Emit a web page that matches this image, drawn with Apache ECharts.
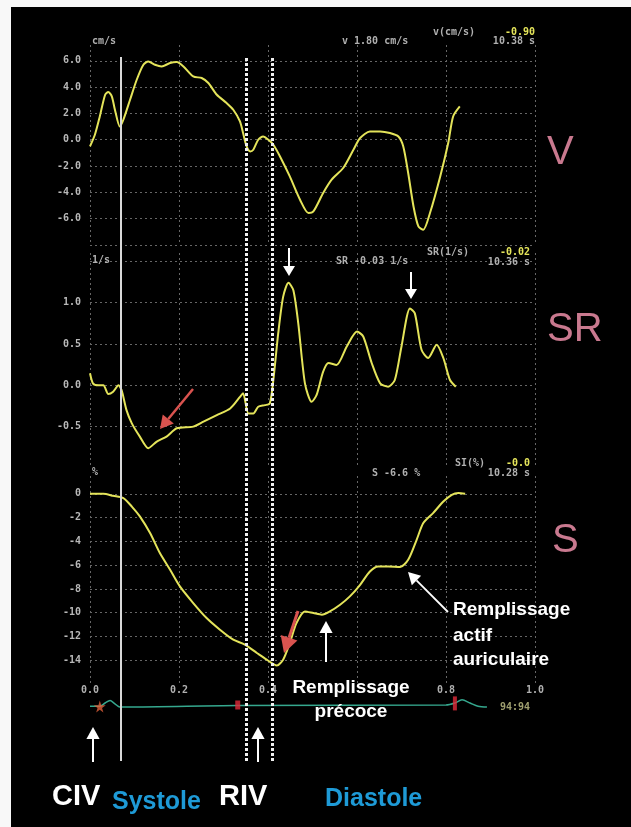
<!DOCTYPE html>
<html>
<head>
<meta charset="utf-8">
<script src="https://cdn.jsdelivr.net/npm/echarts@6/dist/echarts.min.js"></script>
<style>
  html, body { margin: 0; padding: 0; background: #000; }
  #main { width: 631px; height: 827px; }
</style>
</head>
<body>
<div id="main"></div>
<script>
// temps en secondes, vitesse v (cm/s)
const vTime = [0, 0.011, 0.022, 0.034, 0.041, 0.049, 0.056, 0.067, 0.075, 0.09, 0.105, 0.12, 0.131, 0.146, 0.161, 0.18, 0.195, 0.21, 0.232, 0.251, 0.266, 0.285, 0.307, 0.322, 0.337, 0.344, 0.352, 0.36, 0.367, 0.378, 0.389, 0.401, 0.412, 0.427, 0.449, 0.472, 0.491, 0.502, 0.524, 0.543, 0.569, 0.592, 0.607, 0.629, 0.652, 0.674, 0.693, 0.704, 0.715, 0.727, 0.738, 0.749, 0.764, 0.787, 0.805, 0.816, 0.831];
const vVal = [-0.5, 0.38, 1.77, 3.42, 3.63, 3.3, 2.28, 1.0, 1.52, 3.04, 4.56, 5.7, 5.95, 5.7, 5.57, 5.83, 5.9, 5.57, 4.81, 4.69, 4.31, 3.42, 2.79, 2.28, 1.39, 0.51, -0.51, -0.89, -0.76, 0, 0.25, 0, -0.38, -1.27, -2.79, -4.56, -5.57, -5.45, -4.05, -3.04, -2.15, -0.76, 0.13, 0.63, 0.63, 0.51, 0.25, -0.51, -2.53, -5.07, -6.59, -6.84, -5.57, -2.79, -0.25, 1.77, 2.53];

// strain rate SR (1/s)
const srTime = [0, 0.007, 0.019, 0.03, 0.041, 0.052, 0.064, 0.071, 0.082, 0.094, 0.112, 0.131, 0.15, 0.172, 0.195, 0.232, 0.255, 0.285, 0.315, 0.337, 0.344, 0.356, 0.367, 0.378, 0.393, 0.404, 0.412, 0.423, 0.434, 0.446, 0.457, 0.468, 0.483, 0.498, 0.509, 0.524, 0.536, 0.554, 0.577, 0.6, 0.614, 0.633, 0.652, 0.67, 0.685, 0.7, 0.719, 0.73, 0.745, 0.76, 0.779, 0.794, 0.809, 0.822];
const srVal = [0.145, 0.02, 0, 0, -0.105, -0.077, 0, -0.057, -0.3, -0.46, -0.62, -0.76, -0.68, -0.62, -0.52, -0.5, -0.44, -0.36, -0.28, -0.14, -0.097, -0.34, -0.34, -0.26, -0.24, -0.22, 0.064, 0.63, 1.07, 1.24, 1.15, 0.75, 0.024, -0.2, -0.12, 0.165, 0.27, 0.245, 0.47, 0.65, 0.59, 0.27, 0.024, -0.017, 0.064, 0.47, 0.93, 0.87, 0.43, 0.33, 0.49, 0.33, 0.064, -0.017];

// strain S (%)
const sTime = [0, 0.03, 0.052, 0.075, 0.094, 0.112, 0.135, 0.157, 0.18, 0.202, 0.232, 0.262, 0.292, 0.322, 0.348, 0.375, 0.397, 0.42, 0.434, 0.449, 0.464, 0.483, 0.502, 0.521, 0.539, 0.562, 0.584, 0.607, 0.629, 0.648, 0.67, 0.697, 0.715, 0.734, 0.749, 0.771, 0.794, 0.813, 0.828, 0.843];
const sVal = [0, 0, -0.17, -0.36, -1.07, -1.9, -3.3, -4.98, -6.39, -7.79, -9.19, -10.45, -11.43, -12.27, -12.69, -13.39, -13.95, -14.45, -13.95, -12.55, -10.87, -9.89, -10.03, -10.17, -9.89, -9.33, -8.63, -7.65, -6.53, -6.11, -6.11, -6.16, -5.55, -3.87, -2.46, -1.62, -0.65, -0.08, 0.06, 0];

// ECG
const ecgTime = [0, 0.022, 0.034, 0.045, 0.056, 0.067, 0.08, 0.33, 0.8, 0.82, 0.836, 0.854, 0.872, 0.892];
const ecgVal = [0.1, 0.1, 0.5, 0.8, 0.4, 0, 0, 0.2, 0.25, 0.5, 0.9, 0.5, 0.1, 0];
const ecgMarkTime = [0.022, 0.332, 0.82];
const ecgMarkVal = [0.05, 0.25, 0.45];

// evenements : fin CIV (trait plein), RIV (pointilles)
const eventTime = [0.07, 0.346, 0.407];

// graduations
const vTicks = [-6, -4, -2, 0, 2, 4, 6];
const srTicks = [-0.5, 0, 0.5, 1.0];
const sTicks = [0, -2, -4, -6, -8, -10, -12, -14];
const xTickLabels = ['0.0', '0.2', '0.4', '', '0.8', '1.0'];

const pair = (t, v) => t.map((x, i) => [x, v[i]]);
const has = (arr, v) => arr.some(a => Math.abs(a - v) < 1e-6);

const monoFont = '"DejaVu Sans Mono", monospace';
const gridCol = '#666';
const yellow = '#e4e45a';

function xAx(gi, split, labels) {
  return {
    type: 'value', gridIndex: gi, min: 0, max: 1, interval: 0.2,
    axisLine: { show: false }, axisTick: { show: false },
    axisLabel: labels ? {
      show: true, margin: 1, color: '#b0b0b0', fontSize: 10, fontWeight: 'bold', fontFamily: monoFont,
      formatter: v => xTickLabels[Math.round(v / 0.2)] || ''
    } : { show: false },
    splitLine: { show: split, showMinLine: true, lineStyle: { color: gridCol, type: [2, 3], width: 1 } }
  };
}
function yAx(gi, min, max, interval, ticks, fmt, showMin) {
  return {
    type: 'value', gridIndex: gi, min, max, interval,
    axisLine: { show: false }, axisTick: { show: false },
    axisLabel: {
      show: ticks.length > 0, margin: 9, color: '#b8b8b8', fontSize: 10, fontWeight: 'bold', fontFamily: monoFont,
      formatter: v => has(ticks, v) ? fmt(v) : ''
    },
    splitLine: { show: ticks.length > 0, showMinLine: showMin, showMaxLine: false, lineStyle: { color: gridCol, type: [2, 3], width: 1 } }
  };
}

const chart = echarts.init(document.getElementById('main'), null, { renderer: 'canvas' });

function txt(x, y, s, font, color, align) {
  return { type: 'text', z: 100, style: { x, y, text: s, font, fill: color, align: align || 'left', verticalAlign: 'middle' } };
}
function arrow(x1, y1, x2, y2, color, w, head, hwScale) {
  const dx = x2 - x1, dy = y2 - y1, len = Math.hypot(dx, dy);
  const ux = dx / len, uy = dy / len;
  const bx = x2 - ux * head, by = y2 - uy * head;
  const hw = head * (hwScale || 0.55);
  return [
    { type: 'line', z: 100, shape: { x1, y1, x2: bx, y2: by }, style: { stroke: color, lineWidth: w } },
    { type: 'polygon', z: 100, shape: { points: [[x2, y2], [bx - uy * hw, by + ux * hw], [bx + uy * hw, by - ux * hw]] }, style: { fill: color } }
  ];
}

const small = 'bold 10px ' + monoFont;
const grey = '#b0b0b0';
const pink = '#c9798f';
const big = 'bold 19px "Liberation Sans", Arial, sans-serif';
const lbl = 'bold 29px "Liberation Sans", Arial, sans-serif';
const blueLbl = 'bold 25px "Liberation Sans", Arial, sans-serif';
const pinkFont = '40px "Liberation Sans", Arial, sans-serif';

const graphics = [
  { type: 'rect', z: 200, shape: { x: 0, y: 0, width: 631, height: 7 }, style: { fill: '#f8f8f8' } },
  { type: 'rect', z: 200, shape: { x: 0, y: 0, width: 11, height: 827 }, style: { fill: '#f8f8f8' } },
  // en-tetes V
  txt(92, 41, 'cm/s', small, grey), txt(342, 41, 'v 1.80 cm/s', small, grey),
  txt(433, 32, 'v(cm/s)', small, grey), txt(535, 32, '-0.90', small, yellow, 'right'),
  txt(535, 41, '10.38 s', small, grey, 'right'),
  // en-tetes SR
  txt(92, 260, '1/s', small, grey), txt(336, 261, 'SR -0.03 1/s', small, grey),
  txt(427, 252, 'SR(1/s)', small, grey), txt(530, 252, '-0.02', small, yellow, 'right'),
  txt(530, 262, '10.36 s', small, grey, 'right'),
  // en-tetes S
  txt(92, 472, '%', small, grey), txt(372, 473, 'S -6.6 %', small, grey),
  txt(455, 463, 'SI(%)', small, grey), txt(530, 463, '-0.0', small, yellow, 'right'),
  txt(530, 473, '10.28 s', small, grey, 'right'),
  txt(500, 707, '94:94', small, '#a0a070'),
  // lettres roses
  txt(547, 153, 'V', pinkFont, pink),
  txt(547, 330, 'SR', pinkFont, pink),
  txt(552, 541, 'S', pinkFont, pink),
  // annotations
  txt(453, 610, 'Remplissage', big, '#fff'), txt(453, 636, 'actif', big, '#fff'), txt(453, 660, 'auriculaire', big, '#fff'),
  txt(351, 688, 'Remplissage', big, '#fff', 'center'), txt(351, 712, 'précoce', big, '#fff', 'center'),
  txt(52, 797, 'CIV', lbl, '#fff'), txt(219, 797, 'RIV', lbl, '#fff'),
  txt(112, 802, 'Systole', blueLbl, '#1e9ad6'), txt(325, 799, 'Diastole', blueLbl, '#1e9ad6'),
  ...arrow(289, 248, 289, 276, '#fff', 2, 10, 0.6),
  ...arrow(411, 272, 411, 299, '#fff', 2, 10, 0.6),
  ...arrow(326, 662, 326, 621, '#fff', 2, 12, 0.55),
  ...arrow(93, 762, 93, 727, '#fff', 2, 12, 0.55),
  ...arrow(258, 762, 258, 727, '#fff', 2, 12, 0.55),
  ...arrow(448, 612, 408, 572, '#fff', 1.8, 12, 0.55),
  ...arrow(193, 389, 160, 429, '#d9534f', 2.5, 13, 0.55),
  ...arrow(298, 611, 284, 653, '#d9534f', 3, 16, 0.55)
];

const option = {
  backgroundColor: '#000',
  animation: false,
  grid: [
    { left: 90, top: 45, width: 445, height: 200 },
    { left: 90, top: 253, width: 445, height: 215 },
    { left: 90, top: 476, width: 445, height: 208 },
    { left: 90, top: 695, width: 445, height: 16 },
    { left: 90, top: 57, width: 445, height: 704 }
  ],
  xAxis: [xAx(0, true, false), xAx(1, true, false), xAx(2, true, true), xAx(3, false, false), xAx(4, false, false)],
  yAxis: [
    yAx(0, -8, 7.2, 2, vTicks, v => v.toFixed(1), true),
    yAx(1, -1, 1.6, 0.5, srTicks, v => v.toFixed(1), false),
    yAx(2, -16, 1.5, 2, sTicks, v => String(v), false),
    yAx(3, -0.5, 1.5, 0.5, [], v => '', false),
    yAx(4, 0, 1, 1, [], v => '', false)
  ],
  series: [
    { type: 'line', xAxisIndex: 0, yAxisIndex: 0, data: pair(vTime, vVal), smooth: 0.25, showSymbol: false,
      lineStyle: { color: yellow, width: 2 } },
    { type: 'line', xAxisIndex: 1, yAxisIndex: 1, data: pair(srTime, srVal), smooth: 0.25, showSymbol: false,
      lineStyle: { color: yellow, width: 2 } },
    { type: 'line', xAxisIndex: 2, yAxisIndex: 2, data: pair(sTime, sVal), smooth: 0.25, showSymbol: false,
      lineStyle: { color: yellow, width: 2 } },
    { type: 'line', xAxisIndex: 3, yAxisIndex: 3, data: pair(ecgTime, ecgVal), smooth: 0.3, showSymbol: false,
      lineStyle: { color: '#35a88e', width: 1.5 } },
    { type: 'scatter', xAxisIndex: 3, yAxisIndex: 3, z: 5,
      data: [
        { value: [ecgMarkTime[0], ecgMarkVal[0]], symbol: 'path://M50,0 L61,35 L98,35 L68,57 L79,91 L50,70 L21,91 L32,57 L2,35 L39,35 Z', symbolSize: 12, itemStyle: { color: '#e0603a' } },
        { value: [ecgMarkTime[1], ecgMarkVal[1]], symbol: 'rect', symbolSize: [5, 9], itemStyle: { color: '#e02a3a' } },
        { value: [ecgMarkTime[2], ecgMarkVal[2]], symbol: 'rect', symbolSize: [4, 14], itemStyle: { color: '#e02a3a' } }
      ] },
    { type: 'line', xAxisIndex: 4, yAxisIndex: 4, data: [], showSymbol: false,
      markLine: {
        silent: true, symbol: ['none', 'none'], label: { show: false },
        data: [
          { xAxis: eventTime[0], lineStyle: { color: '#d8d8d8', width: 2, type: 'solid' } },
          { xAxis: eventTime[1], lineStyle: { color: '#f0f0f0', width: 3, type: [3, 2] } },
          { xAxis: eventTime[2], lineStyle: { color: '#f0f0f0', width: 3, type: [3, 2] } }
        ]
      } }
  ],
  graphic: graphics
};

chart.setOption(option);
</script>
</body>
</html>
